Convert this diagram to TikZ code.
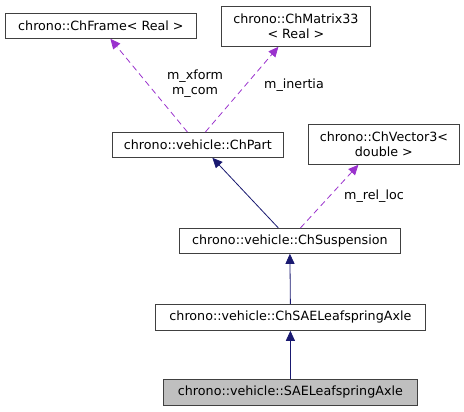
\documentclass[tikz,border=0pt]{standalone}
\usepackage{fontspec}
\setmainfont{DejaVu Sans}
\usetikzlibrary{arrows.meta}

\definecolor{edgeblue}{HTML}{191970}
\definecolor{edgepurple}{HTML}{9A32CD}
\definecolor{boxgray}{HTML}{BFBFBF}

\begin{document}
\begin{tikzpicture}[x=1pt,y=-1pt,
  classbox/.style={draw=black!75,thick,anchor=north west,inner sep=0pt,
    font=\fontsize{12.7}{15}\selectfont,align=center},
  inherit/.style={edgeblue,thick,-{Triangle[length=10pt,width=9pt]}},
  usage/.style={edgepurple,thick,dashed,dash pattern=on 6pt off 4pt,
    -{Triangle[length=10pt,width=9pt]}},
  elabel/.style={font=\fontsize{12.7}{15}\selectfont,align=center}]

  \useasboundingbox (0,0) rectangle (464,412);

  % classes, top row
  \node[classbox,minimum width=191pt,minimum height=25pt] (frame) at (5,13)
    {chrono::ChFrame< Real >};
  \node[classbox,minimum width=149pt,minimum height=40pt] (matrix) at (221,6)
    {chrono::ChMatrix33\\< Real >};

  % middle
  \node[classbox,minimum width=171pt,minimum height=25pt] (part) at (112,132)
    {chrono::vehicle::ChPart};
  \node[classbox,minimum width=151pt,minimum height=40pt] (vector) at (308,124)
    {chrono::ChVector3<\\double >};
  \node[classbox,minimum width=221pt,minimum height=25pt] (susp) at (179,228)
    {chrono::vehicle::ChSuspension};

  % bottom chain
  \node[classbox,minimum width=270pt,minimum height=26pt] (chaxle) at (155,304)
    {chrono::vehicle::ChSAELeafspringAxle};
  \node[classbox,fill=boxgray,minimum width=254pt,minimum height=26pt] (axle) at (163,379)
    {chrono::vehicle::SAELeafspringAxle};

  % member edges
  \draw[usage] ([xshift=-10.5pt]part.north) -- ([xshift=9.5pt]frame.south);
  \draw[usage] ([xshift=7.5pt]part.north) -- ([xshift=-17.5pt]matrix.south);
  \draw[usage] ([xshift=10.5pt]susp.north) -- ([xshift=-25.5pt]vector.south);

  % inheritance edges
  \draw[inherit] ([xshift=-11.5pt]susp.north) -- ([xshift=14.5pt]part.south);
  \draw[inherit] (chaxle.north) -- (susp.south);
  \draw[inherit] (axle.north) -- (chaxle.south);

  % edge labels
  \node[elabel] (lxform) at (195,84) {m\_xform\\m\_com};
  \node[elabel] (linertia) at (294,85) {m\_inertia};
  \node[elabel] (lrelloc) at (374,196) {m\_rel\_loc};

\end{tikzpicture}
\end{document}
